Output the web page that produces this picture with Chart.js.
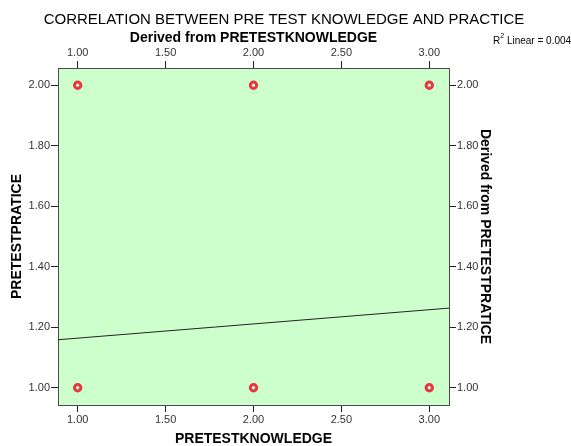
<!DOCTYPE html>
<html>
<head>
<meta charset="utf-8">
<script src="https://cdn.jsdelivr.net/npm/chart.js@4.4.1/dist/chart.umd.min.js"></script>
<style>
  html, body { margin: 0; padding: 0; background: #fff; }
  #wrap { width: 571px; height: 446px; }
</style>
</head>
<body>
<div id="wrap"><canvas id="chart" width="571" height="446"></canvas></div>
<script>
// data
var knowledge = [1, 2, 3, 1, 2, 3];
var practice = [2, 2, 2, 1, 1, 1];
var xTicks = [1.00, 1.50, 2.00, 2.50, 3.00];
var yTicks = [1.00, 1.20, 1.40, 1.60, 1.80, 2.00];
var xRange = [0.888, 3.112];
var yRange = [0.943, 2.057];
var fitSlope = 0.047;
var fitIntercept = 1.117;
var rSquared = '0.004';

var titleText = 'CORRELATION BETWEEN PRE TEST KNOWLEDGE AND PRACTICE';
var font = 'Liberation Sans, Arial, sans-serif';

var points = knowledge.map(function (k, i) { return { x: k, y: practice[i] }; });
var fitLine = xRange.map(function (x) { return { x: x, y: fitIntercept + fitSlope * x }; });

function fixTicks(values) {
	return function (scale) {
		scale.ticks = values.map(function (v) { return { value: v }; });
	};
}

function axis(position, values, range, label, titlePad, size) {
	return {
		type: 'linear',
		position: position,
		min: range[0],
		max: range[1],
		afterBuildTicks: fixTicks(values),
		afterFit: function (scale) {
			if (position === 'top' || position === 'bottom') scale.height = size;
			else scale.width = size;
		},
		ticks: {
			color: '#333',
			font: { family: font, size: 11 },
			padding: 1,
			maxRotation: 0,
			autoSkip: false,
			callback: function (v) { return Number(v).toFixed(2); }
		},
		grid: {
			display: true,
			drawOnChartArea: false,
			drawTicks: true,
			tickLength: 7,
			color: '#222',
			lineWidth: 1
		},
		border: { display: true, color: '#4a4a4a', width: 1 },
		title: {
			display: true,
			text: label,
			color: '#000',
			font: { family: font, size: 14, weight: 'bold', lineHeight: 1 },
			padding: titlePad
		}
	};
}

var plotBackground = {
	id: 'plotBackground',
	beforeDraw: function (chart) {
		var a = chart.chartArea;
		var ctx = chart.ctx;
		ctx.save();
		ctx.fillStyle = '#ccffcc';
		ctx.fillRect(a.left, a.top, a.right - a.left, a.bottom - a.top);
		ctx.restore();
	},
	afterDraw: function (chart) {
		var ctx = chart.ctx;
		ctx.save();
		ctx.fillStyle = '#000';
		ctx.textAlign = 'center';
		ctx.textBaseline = 'middle';
		ctx.font = '15px ' + font;
		ctx.fillText(titleText, 284, 20);

		ctx.textAlign = 'left';
		ctx.font = '10px ' + font;
		ctx.fillText('R', 493, 41);
		var rw = ctx.measureText('R').width;
		ctx.font = '7px ' + font;
		ctx.fillText('2', 493 + rw, 36);
		var sw = ctx.measureText('2').width;
		ctx.font = '10px ' + font;
		ctx.fillText(' Linear = ' + rSquared, 493 + rw + sw, 41);
		ctx.restore();
	}
};

new Chart(document.getElementById('chart'), {
	type: 'scatter',
	data: {
		datasets: [{
			type: 'line',
			data: fitLine,
			borderColor: '#222',
			borderWidth: 1,
			pointRadius: 0,
			fill: false,
			xAxisID: 'x',
			yAxisID: 'y',
			order: 2
		}, {
			data: points,
			pointRadius: 3.2,
			pointBorderWidth: 3,
			pointBackgroundColor: 'rgba(0,0,0,0)',
			pointBorderColor: '#ea3440',
			xAxisID: 'x',
			yAxisID: 'y',
			order: 1
		}]
	},
	plugins: [plotBackground],
	options: {
		responsive: false,
		animation: false,
		layout: { padding: 0 },
		plugins: {
			legend: { display: false },
			title: { display: false },
			tooltip: { enabled: false }
		},
		scales: {
			x: axis('bottom', xTicks, xRange, 'PRETESTKNOWLEDGE', { top: 0, bottom: 0 }, 41),
			x2: axis('top', xTicks, xRange, 'Derived from PRETESTKNOWLEDGE', { top: 31, bottom: 0 }, 68),
			y: axis('left', yTicks, yRange, 'PRETESTPRATICE', { top: 10, bottom: 0 }, 58),
			y2: axis('right', yTicks, yRange, 'Derived from PRETESTPRATICE', { top: 79, bottom: 0 }, 122)
		}
	}
});
</script>
</body>
</html>
